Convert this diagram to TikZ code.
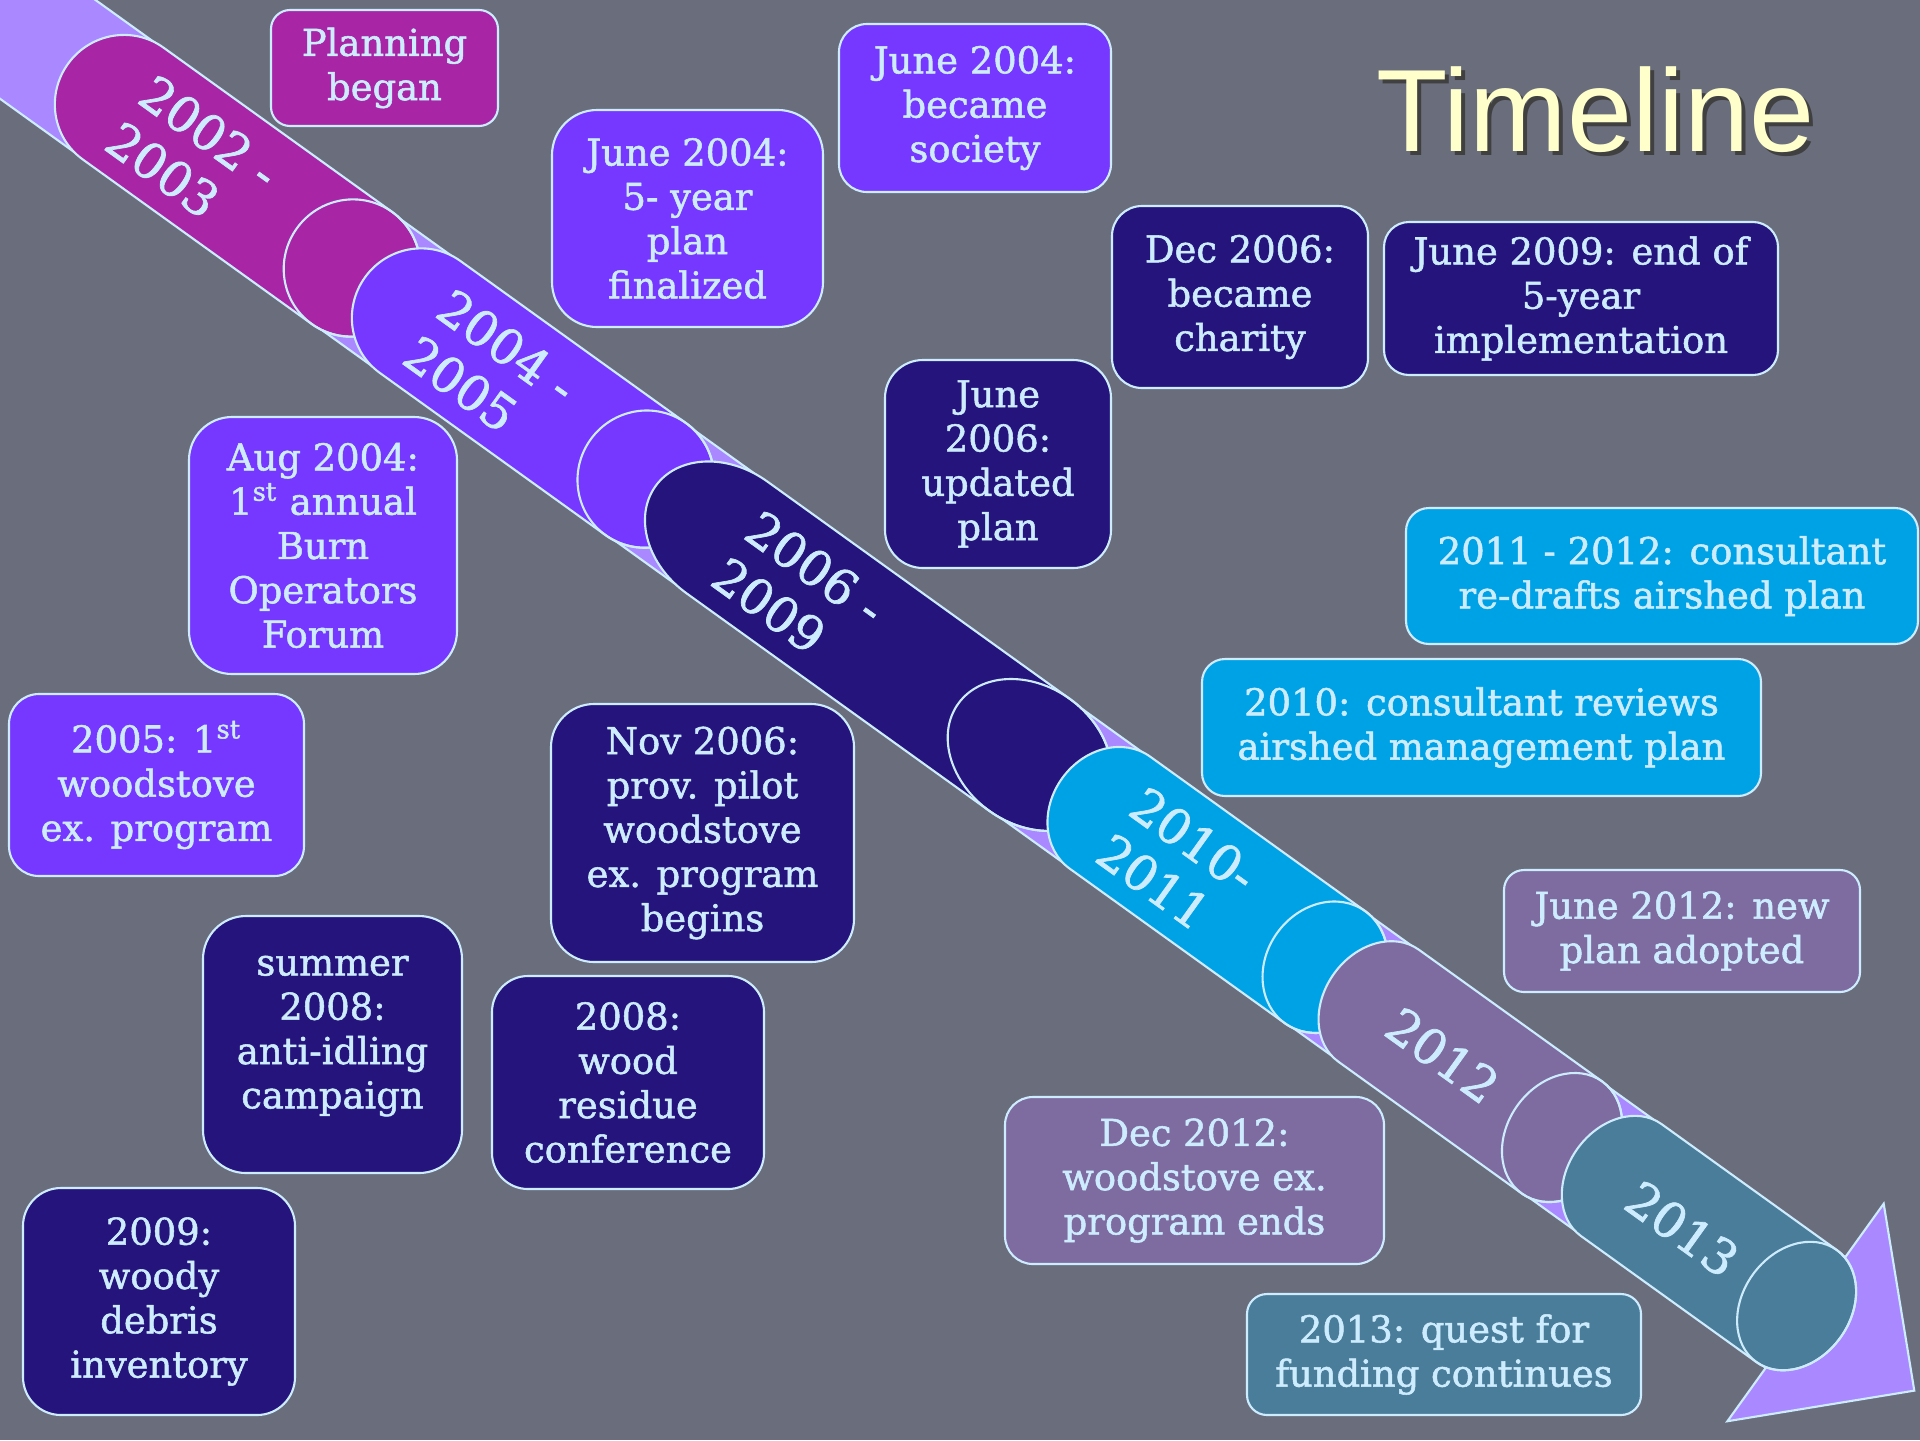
\documentclass[tikz,border=0pt]{standalone}
\usepackage{fontspec}
\setmainfont{DejaVu Serif}
\newfontfamily\boxfont{DejaVu Serif}[FakeBold=1.4]
\newfontfamily\titlefont{Liberation Sans}
\usepackage{xcolor}
\definecolor{slate}{RGB}{106,110,124}
\definecolor{plum}{RGB}{168,38,166}
\definecolor{violetb}{RGB}{118,56,254}
\definecolor{navyb}{RGB}{36,20,124}
\definecolor{skyb}{RGB}{0,162,230}
\definecolor{mauve}{RGB}{126,108,160}
\definecolor{tealb}{RGB}{74,125,153}
\definecolor{lav}{RGB}{170,136,255}
\definecolor{ice}{RGB}{205,236,255}
\definecolor{cream}{RGB}{255,255,204}
\tikzset{
  evt/.style={draw=ice, line width=0.6pt, text=ice, align=center, inner sep=0pt,
    font=\boxfont\fontsize{10.5}{12.6}\selectfont},
  yr/.style={text=ice, align=left, rotate=-35.7, inner sep=0pt,
    font=\boxfont\fontsize{13.9}{16.3}\selectfont},
}
% one can: cap centre, face centre, half length of the end ellipse, colour
\newcommand{\can}[4]{%
  \filldraw[fill=#4, draw=ice, line width=0.6pt] (#1,69) -- (#2,69)
    arc[start angle=90, end angle=-90, x radius=#3, y radius=69] -- (#1,-69)
    arc[start angle=270, end angle=90, x radius=#3, y radius=69] -- cycle;
  \draw[ice, line width=0.6pt] (#2,0) ellipse [x radius=#3, y radius=69];
}

\begin{document}
\begin{tikzpicture}
  \useasboundingbox (0,0) rectangle (19.2,-14.4);
  \fill[slate] (0,0) rectangle (19.2,-14.4);
  \clip (0,0) rectangle (19.2,-14.4);

  % the band with its cans, along the axis
  \begin{scope}[shift={(3.52,-2.68)}, rotate=-35.7, x=0.01cm, y=0.01cm]
    \filldraw[fill=lav, draw=ice, line width=0.6pt] (-700,68) -- (1791,68) -- (1791,134)
      -- (1925,0) -- (1791,-134) -- (1791,-68) -- (-700,-68) -- cycle;
    \can{-282}{0}{68}{plum}
    \can{84}{362}{68}{violetb}
    \can{462}{835}{88}{navyb}
    \can{934}{1199}{59}{skyb}
    \can{1265}{1491}{55}{mauve}
    \can{1564}{1780}{54}{tealb}
    \node[yr] (y02) at (-195,-2) {2002 -\\2003};
    \node[yr] (y04) at (172,-2) {2004 -\\2005};
    \node[yr] (y06) at (552,-2) {2006 -\\2009};
    \node[yr] (y10) at (1018,-2) {2010-\\2011};
    \node[yr] (y12) at (1346,-3) {2012};
    \node[yr] (y13) at (1642,-4) {2013};
  \end{scope}

  \node[evt, fill=plum, minimum width=2.27cm, minimum height=1.16cm, rounded corners=0.19cm] (plan) at (3.845,-0.68) {Planning\\began};
  \node[evt, fill=violetb, minimum width=2.71cm, minimum height=2.17cm, rounded corners=0.45cm] (fiveyr) at (6.875,-2.185) {June 2004:\\5- year\\plan\\finalized};
  \node[evt, fill=violetb, minimum width=2.72cm, minimum height=1.68cm, rounded corners=0.28cm] (society) at (9.75,-1.08) {June 2004:\\became\\society};
  \node[evt, fill=navyb, minimum width=2.56cm, minimum height=1.82cm, rounded corners=0.3cm] (charity) at (12.4,-2.97) {Dec 2006:\\became\\charity};
  \node[evt, fill=navyb, minimum width=3.94cm, minimum height=1.53cm, rounded corners=0.25cm] (impl) at (15.81,-2.985) {June 2009: end of\\5-year\\implementation};
  \node[evt, fill=navyb, minimum width=2.26cm, minimum height=2.08cm, rounded corners=0.38cm] (updated) at (9.98,-4.64) {June\\2006:\\updated\\plan};
  \node[evt, fill=violetb, minimum width=2.68cm, minimum height=2.57cm, rounded corners=0.43cm] (forum) at (3.23,-5.455) {Aug 2004:\\1\textsuperscript{st} annual\\Burn\\Operators\\Forum};
  \node[evt, fill=violetb, minimum width=2.95cm, minimum height=1.82cm, rounded corners=0.3cm] (wsfirst) at (1.565,-7.85) {2005: 1\textsuperscript{st}\\woodstove\\ex. program};
  \node[evt, fill=navyb, minimum width=3.03cm, minimum height=2.58cm, rounded corners=0.43cm] (pilot) at (7.025,-8.33) {Nov 2006:\\prov. pilot\\woodstove\\ex. program\\begins};
  \node[evt, fill=navyb, minimum width=2.59cm, minimum height=2.57cm, rounded corners=0.43cm, text depth=0.25cm] (idling) at (3.325,-10.445) {summer\\2008:\\anti-idling\\campaign};
  \node[evt, fill=navyb, minimum width=2.72cm, minimum height=2.13cm, rounded corners=0.36cm] (residue) at (6.28,-10.825) {2008:\\wood\\residue\\conference};
  \node[evt, fill=navyb, minimum width=2.72cm, minimum height=2.27cm, rounded corners=0.38cm] (debris) at (1.59,-13.015) {2009:\\woody\\debris\\inventory};
  \node[evt, fill=skyb, minimum width=5.12cm, minimum height=1.36cm, rounded corners=0.23cm] (redraft) at (16.62,-5.76) {2011 - 2012: consultant\\re-drafts airshed plan};
  \node[evt, fill=skyb, minimum width=5.59cm, minimum height=1.37cm, rounded corners=0.23cm] (reviews) at (14.815,-7.275) {2010: consultant reviews\\airshed management plan};
  \node[evt, fill=mauve, minimum width=3.56cm, minimum height=1.22cm, rounded corners=0.2cm] (adopted) at (16.82,-9.31) {June 2012: new\\plan adopted};
  \node[evt, fill=mauve, minimum width=3.79cm, minimum height=1.67cm, rounded corners=0.28cm] (ends) at (11.945,-11.805) {Dec 2012:\\woodstove ex.\\program ends};
  \node[evt, fill=tealb, minimum width=3.94cm, minimum height=1.21cm, rounded corners=0.2cm] (quest) at (14.44,-13.545) {2013: quest for\\funding continues};

  % title with its shadow
  \node[anchor=base, text=black!75, font=\titlefont\fontsize{33.3}{36}\selectfont] (ttlsh) at (15.995,-1.55) {Timeline};
  \node[anchor=base, text=cream, font=\titlefont\fontsize{33.3}{36}\selectfont] (ttl) at (15.955,-1.51) {Timeline};
\end{tikzpicture}
\end{document}
